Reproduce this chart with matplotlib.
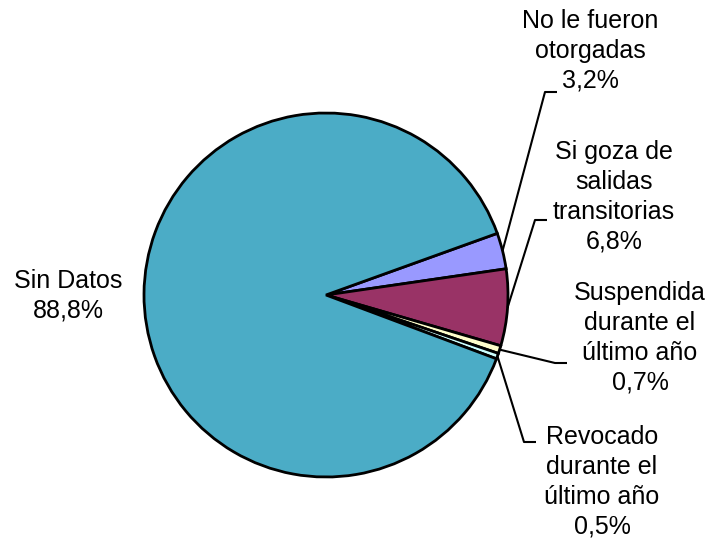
import numpy as np
import matplotlib
matplotlib.use("Agg")
import matplotlib.pyplot as plt

plt.rcParams["font.family"] = ["Liberation Sans", "DejaVu Sans"]

labels = ["No le fueron\notorgadas", "Si goza de\nsalidas\ntransitorias",
          "Suspendida\ndurante el\núltimo año", "Revocado\ndurante el\núltimo año",
          "Sin Datos"]
values = [3.2, 6.8, 0.7, 0.5, 88.8]
colors = ["#9999FF", "#993366", "#FFFFCC", "#CCFFFF", "#4BACC6"]

# layout (pixel coords, y from top): text centre, leader elbow
text_pos = [(590, 51), (614, 197), (640, 338), (602, 482), (68, 296)]
elbows = [(545, 92), (535, 220), (555, 363), (524, 442), None]

W, H = 716, 540
cx, cy, R = 326, H - 295, 182

fig = plt.figure(figsize=(7.16, 5.4), dpi=100)
ax = fig.add_axes([0, 0, 1, 1])

wedges, _ = ax.pie(values, colors=colors, startangle=19.8, counterclock=False,
                   center=(cx, cy), radius=R, frame=True,
                   wedgeprops=dict(edgecolor="black", linewidth=2))
ax.set_xlim(0, W); ax.set_ylim(0, H); ax.axis("off")

for w, lab, v, tp, el in zip(wedges, labels, values, text_pos, elbows):
    txt = f"{lab}\n{v:.1f}%".replace(".", ",")
    ax.text(tp[0], H - tp[1], txt, ha="center", va="center", fontsize=18,
            linespacing=1.3)
    if el is None:
        continue
    a = np.deg2rad((w.theta1 + w.theta2) / 2)
    px, py = cx + R * np.cos(a), cy + R * np.sin(a)
    ex, ey = el[0], H - el[1]
    ax.plot([px, ex, ex + 12], [py, ey, ey], color="black", lw=1.5,
            solid_capstyle="butt")

fig.savefig("out.png", dpi=100)
